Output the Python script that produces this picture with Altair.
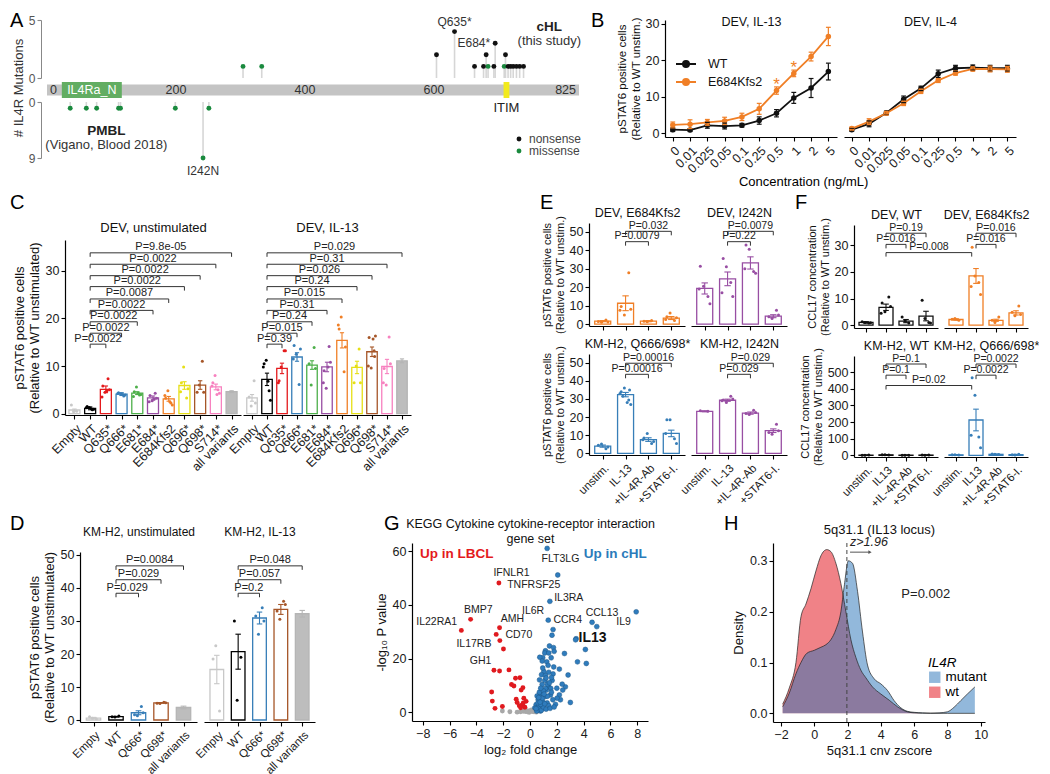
import json
import altair as alt
import pandas as pd

FONT = "Liberation Sans"
BLACK = "#111111"
ORANGE = "#f07f26"
BLUE = "#377eb8"
PURPLE = "#984ea3"
GREEN = "#1a8a3e"
LIGHT = "#c8c8c8"
GREYFILL = "#bdbdbd"
RED = "#e41a1c"
WHITE = "#ffffff"

# ---------------- Panel A data ----------------
A_LEN = 825
A_TICKS = [0, 200, 400, 600, 825]
A_DOM_NAME = ["IL4Ra_N"]
A_DOM_START = [23]
A_DOM_END = [116]
A_ITIM_NAME = ["ITIM"]
A_ITIM_START = [708]
A_ITIM_END = [717]
A_TOP_POS = [304, 333, 604, 632, 663, 677, 681, 684, 693, 695, 709, 711, 715, 719, 723, 728, 733, 739]
A_TOP_N = [1, 1, 2, 4, 1, 1, 2, 1, 1, 3, 1, 2, 1, 1, 1, 1, 1, 1]
A_TOP_TYPE = ["missense", "missense", "nonsense", "nonsense", "nonsense", "nonsense", "nonsense",
              "missense", "nonsense", "nonsense", "missense", "nonsense", "nonsense", "nonsense",
              "nonsense", "nonsense", "nonsense", "nonsense"]
A_BOT_POS = [36, 61, 77, 111, 114, 199, 242, 251]
A_BOT_N = [1, 1, 1, 1, 1, 1, 9, 1]
A_BOT_TYPE = ["missense"] * 8
A_TOPLAB_TEXT = ["Q635*", "E684*"]
A_TOPLAB_POS = [632, 695]
A_TOPLAB_N = [4, 3]
A_CHL_TEXT = ["cHL", "(this study)"]
A_CHL_POS = [779, 779]
A_CHL_N = [4.4, 3.15]
A_PMBL_TEXT = ["PMBL", "(Vigano, Blood 2018)"]
A_PMBL_POS = [92, 92]
A_PMBL_N = [4.7, 6.9]
A_BOTLAB_TEXT = ["I242N"]
A_BOTLAB_POS = [242]
A_BOTLAB_N = [9]
A_YTITLE = ["# IL4R Mutations"]

# ---------------- Panel B data ----------------
B_CONC = ["0", "0.01", "0.025", "0.05", "0.1", "0.25", "0.5", "1", "2", "5"]
B_IL13_WT = [1.0, 0.9, 2.2, 2.0, 2.2, 3.5, 5.5, 9.7, 12.4, 16.9]
B_IL13_WT_SE = [0.5, 0.4, 0.8, 0.8, 0.5, 1.0, 1.0, 1.5, 2.6, 2.3]
B_IL13_MUT = [2.3, 2.5, 3.0, 3.4, 4.5, 6.7, 11.7, 16.4, 21.0, 26.5]
B_IL13_MUT_SE = [0.8, 1.2, 0.8, 1.0, 1.0, 1.5, 1.0, 0.9, 1.2, 2.5]
B_IL4_WT = [1.0, 2.6, 5.6, 9.3, 12.3, 16.3, 17.8, 18.0, 17.8, 17.8]
B_IL4_WT_SE = [0.4, 0.8, 0.5, 0.9, 0.6, 1.0, 0.8, 0.7, 0.8, 0.8]
B_IL4_MUT = [1.3, 3.2, 5.5, 8.2, 11.5, 14.5, 16.5, 17.6, 17.6, 17.5]
B_IL4_MUT_SE = [0.4, 0.8, 0.5, 0.6, 0.6, 0.6, 0.6, 0.6, 0.8, 0.8]
B_STAR_IDX = [6, 7]
B_STAR_Y = [14.6, 19.3]

# ---------------- Panel C data ----------------
C_LABELS = ["Empty", "WT", "Q635*", "Q666*", "E681*", "E684*", "E684Kfs2", "Q696*", "Q698*", "S714*", "all variants"]
C_COLORS = [LIGHT, "#000000", "#e41a1c", "#377eb8", "#4daf4a", "#984ea3", ORANGE, "#e6df16", "#a65628", "#f781bf", "#b5b5b5"]
C_FILLS = [WHITE] * 10 + [GREYFILL]
C_UNSTIM_MEAN = [0.75, 1.1, 5.1, 4.1, 4.3, 3.3, 3.1, 5.9, 6.0, 5.6, 4.6]
C_UNSTIM_SE = [0.2, 0.3, 0.7, 0.3, 0.3, 0.4, 0.5, 0.8, 0.9, 0.6, 0.2]
C_UNSTIM_PTS = [[1.8, 0.5, 0.4], [1.5, 0.8, 1.3, 0.9, 1.2, 1.0], [5.8, 7.3, 4.5, 5.0, 3.5, 4.8],
                [4.4, 3.7, 4.1, 3.9, 4.2, 4.0], [4.6, 3.9, 5.6, 4.0, 3.6, 4.3], [3.8, 4.3, 2.7, 3.2, 2.5, 3.0],
                [3.2, 2.2, 4.8, 1.8, 3.8, 2.5], [6.5, 3.3, 9.8, 5.2, 4.6], [4.5, 11.0, 6.0, 4.5],
                [6.5, 5.0, 8.0, 4.3, 5.8, 4.0], []]
C_UNSTIM_BR_TO = ["Q635*", "Q666*", "E681*", "E684*", "E684Kfs2", "Q696*", "Q698*", "S714*", "all variants"]
C_UNSTIM_BR_Y = [14.6, 16.9, 19.3, 21.7, 24.1, 26.7, 29.0, 31.4, 33.8]
C_UNSTIM_BR_P = ["P=0.0022", "P=0.0022", "P=0.0022", "P=0.0022", "P=0.0087", "P=0.0022", "P=0.0022", "P=0.0022", "P=9.8e-05"]
C_IL13_MEAN = [3.3, 7.2, 9.5, 11.9, 10.2, 9.8, 15.4, 9.7, 13.0, 9.9, 11.1]
C_IL13_SE = [0.7, 1.3, 1.1, 0.9, 0.9, 1.0, 1.6, 1.3, 1.0, 1.5, 0.4]
C_IL13_PTS = [[3.5, 6.9, 1.6, 2.2], [10.5, 4.8, 11.2, 2.8, 9.8, 6.8], [6.9, 13.2, 9.8, 13.2, 6.5],
              [14.3, 6.1, 12.5, 13.6, 11.5], [10.5, 13.9, 6.0, 9.5], [9.0, 14.1, 5.3, 10.8, 6.5, 9.8],
              [17.8, 8.8, 20.3, 14.0, 18.6], [6.5, 13.6, 10.0, 6.5], [16.0, 13.2, 9.6, 16.3, 10.0, 15.7, 12.0],
              [9.5, 16.1, 6.0, 10.5, 6.5], []]
C_IL13_BR_Y = [14.6, 16.9, 19.3, 21.7, 24.1, 26.7, 29.0, 31.4, 33.8]
C_IL13_BR_P = ["P=0.39", "P=0.015", "P=0.24", "P=0.31", "P=0.015", "P=0.24", "P=0.026", "P=0.31", "P=0.029"]

# ---------------- Panel D data ----------------
D_LABELS = ["Empty", "WT", "Q666*", "Q698*", "all variants"]
D_COLORS = [LIGHT, "#000000", "#377eb8", "#a65628", "#b5b5b5"]
D_FILLS = [WHITE] * 4 + [GREYFILL]
D_UNSTIM_MEAN = [0.6, 1.0, 2.2, 5.2, 3.8]
D_UNSTIM_SE = [0.2, 0.1, 0.6, 0.1, 0.4]
D_UNSTIM_PTS = [[1.0, 0.3, 0.5], [1.0, 1.2, 0.9], [1.6, 4.1, 1.3, 2.2], [5.1, 5.4, 5.0, 5.2], []]
D_IL13_MEAN = [15.3, 20.7, 30.9, 33.5, 32.2]
D_IL13_SE = [4.3, 5.3, 1.8, 1.5, 1.0]
D_IL13_PTS = [[18.5, 2.7, 22.5], [30.0, 19.0, 6.0], [31.5, 34.0, 26.0, 30.0], [33.0, 36.0, 30.5, 35.0], []]
D_BR_TO = ["Q666*", "Q698*", "all variants"]
D_BR_Y = [38.4, 42.5, 46.7]
D_UNSTIM_BR_P = ["P=0.029", "P=0.029", "P=0.0084"]
D_IL13_BR_P = ["P=0.2", "P=0.057", "P=0.048"]

# ---------------- Panel E data ----------------
E_LABELS = ["unstim.", "IL-13", "+IL-4R-Ab", "+STAT6-I."]
E_BR_TO = ["+IL-4R-Ab", "+STAT6-I."]
E_DEV_E684_MEAN = [1.6, 11.3, 1.6, 3.3]
E_DEV_E684_SE = [0.3, 4.0, 0.3, 0.8]
E_DEV_E684_PTS = [[1.5, 2.2, 1.0, 1.2], [9.5, 27.8, 5.0, 8.0, 7.5], [1.6, 2.0, 1.3], [4.0, 2.0, 6.0, 3.5, 2.5]]
E_DEV_E684_BR_Y = [44.6, 50.2]
E_DEV_E684_BR_P = ["P=0.0079", "P=0.032"]
E_DEV_I242N_MEAN = [19.3, 24.5, 33.1, 4.3]
E_DEV_I242N_SE = [3.0, 3.7, 3.3, 0.8]
E_DEV_I242N_PTS = [[31.3, 15.0, 20.5, 11.0, 19.0], [35.5, 22.5, 31.0, 15.0, 17.0],
                   [42.8, 28.5, 40.5, 27.5, 30.0], [4.0, 7.5, 3.0, 5.0]]
E_DEV_I242N_BR_Y = [44.6, 50.2]
E_DEV_I242N_BR_P = ["P=0.22", "P=0.0079"]
E_KM_Q_MEAN = [4.0, 32.4, 7.6, 11.0]
E_KM_Q_SE = [0.6, 1.2, 1.0, 1.8]
E_KM_Q_PTS = [[4.5, 2.5, 5.2, 3.5], [34.0, 29.5, 36.0, 27.0, 33.0, 28.0, 35.0, 31.5],
              [8.5, 5.5, 11.0, 6.5, 7.5], [18.5, 8.0, 18.5, 5.5, 11.0]]
E_KM_Q_BR_Y = [43.6, 49.7]
E_KM_Q_BR_P = ["P=0.00016", "P=0.00016"]
E_KM_I242N_MEAN = [23.2, 29.3, 22.2, 12.5]
E_KM_I242N_SE = [0.3, 0.6, 0.6, 1.0]
E_KM_I242N_PTS = [[23.5, 23.2], [29.5, 31.5, 28.0, 30.0, 29.0], [22.0, 23.8, 21.5, 22.5], [11.5, 16.0, 10.5, 12.5]]
E_KM_I242N_BR_Y = [43.6, 49.7]
E_KM_I242N_BR_P = ["P=0.029", "P=0.029"]

# ---------------- Panel F data ----------------
F_LABELS = ["unstim.", "IL13", "+IL-4R-Ab", "+STAT6-I."]
F_BR_TO = ["+IL-4R-Ab", "+STAT6-I."]
F_DEV_WT_MEAN = [1.0, 6.7, 1.5, 3.4]
F_DEV_WT_SE = [0.3, 1.2, 0.6, 1.8]
F_DEV_WT_PTS = [[1.3, 0.8, 1.0, 0.9], [8.3, 10.6, 5.0, 7.0, 4.5], [3.0, 0.8, 1.5], [9.4, 1.0, 2.5, 0.8]]
F_DEV_WT_BR_Y = [30.4, 34.6]
F_DEV_WT_BR_P = ["P=0.016", "P=0.19"]
F_DEV_CROSS = ["IL13", 27.3, "P=0.008"]
F_DEV_E684_MEAN = [2.1, 18.5, 1.8, 4.6]
F_DEV_E684_SE = [0.3, 2.8, 0.4, 0.8]
F_DEV_E684_PTS = [[2.2, 1.8, 2.5], [29.3, 16.0, 18.5, 11.5, 14.5], [1.8, 3.0, 1.0], [4.8, 7.2, 3.5, 4.0]]
F_DEV_E684_BR_Y = [30.4, 34.6]
F_DEV_E684_BR_P = ["P=0.016", "P=0.016"]
F_KM_WT_MEAN = [1.0, 3.0, 1.0, 1.5]
F_KM_WT_SE = [0.5, 1.0, 0.5, 0.5]
F_KM_WT_PTS = [[1.0, 1.5, 0.6], [3.5, 2.0, 3.8], [1.0, 1.2, 0.8], [1.5, 2.0, 1.0]]
F_KM_WT_BR_Y = [481, 548]
F_KM_WT_BR_P = ["P=0.1", "P=0.1"]
F_KM_CROSS = ["IL13", 419, "P=0.02"]
F_KM_Q_MEAN = [3.0, 212.0, 6.0, 4.0]
F_KM_Q_SE = [1.0, 65.0, 2.0, 2.0]
F_KM_Q_PTS = [[3.0, 2.0, 4.0], [465.0, 110.0, 360.0, 45.0, 120.0], [8.0, 5.0, 6.0], [4.0, 6.0, 2.0]]
F_KM_Q_BR_Y = [481, 548]
F_KM_Q_BR_P = ["P=0.0022", "P=0.0022"]

# ---------------- Panel G data ----------------
G_BLUE_X = [1.28, 2.07, 1.48, 1.36, 1.72, 1.64, 4.63, 4.98, 7.92, 3.44, 3.40, 4.13, 3.54, 4.20, 2.57,
            1.45, 1.75, 1.80, 1.15, 1.10, 1.40, 1.58, 0.95, 0.73, 0.91, 1.25, 1.77, 2.19, 1.40, 1.03,
            0.86, 1.15, 1.72, 2.84, 2.64, 2.44, 2.19, 2.27, 3.01, 2.02, 1.40, 1.55, 1.23, 0.91, 0.71,
            1.10, 1.65, 0.73, 1.15, 0.61, 0.95, 1.28, 0.46, 0.66, 1.03, 1.40, 0.78, 0.36, 0.53, 0.91,
            1.15, 1.53, 1.70, 0.55, 0.70, 0.85, 1.00, 1.20, 0.60, 0.80, 1.10, 0.90, 1.30, 0.70, 1.00,
            1.30, 0.80, 1.60, 1.90, 1.50, 0.65, 1.20, 0.95, 1.35, 1.60, 2.40, 2.00, 0.50, 1.80, 0.45,
            0.75, 1.05, 1.45]
G_BLUE_Y = [61.0, 51.1, 41.3, 34.3, 30.8, 28.7, 33.5, 31.9, 37.4, 27.4, 27.0, 23.4, 18.8, 18.2, 21.9,
            24.7, 24.1, 22.7, 22.9, 22.1, 22.1, 20.3, 20.3, 20.5, 19.1, 18.8, 16.9, 16.1, 14.9, 15.2,
            14.0, 13.7, 14.3, 13.9, 9.5, 8.3, 6.5, 4.7, 3.7, 5.3, 9.5, 8.9, 8.3, 10.4, 12.1,
            11.9, 11.9, 6.5, 5.9, 4.7, 4.1, 3.5, 2.9, 2.3, 1.7, 2.5, 0.5, 1.7, 6.1, 7.1,
            8.9, 6.5, 4.7, 1.0, 1.2, 0.8, 2.0, 1.2, 3.5, 3.0, 3.2, 5.2, 6.0, 7.5, 8.0,
            10.5, 9.0, 7.5, 3.0, 1.5, 5.5, 12.8, 16.5, 17.5, 13.0, 10.5, 9.0, 0.5, 2.0, 1.4,
            3.8, 6.8, 11.0]
G_RED_X = [-2.32, -4.43, -5.12, -2.27, -2.52, -2.25, -1.98, -2.69, -2.27, -1.57, -1.08, -0.75, -1.38, -1.20,
           -0.53, -0.66, -2.86, -2.81, -2.61, -2.06, -1.03, -0.96, -0.46, -0.58, -0.38, -0.70, -0.29, -0.50, -0.80]
G_RED_Y = [48.1, 34.6, 30.5, 31.5, 29.0, 26.7, 23.6, 15.7, 15.4, 15.8, 12.7, 12.9, 10.4, 9.8,
           9.2, 8.3, 7.6, 4.2, 1.5, 2.2, 4.9, 3.7, 5.3, 2.8, 1.9, 1.7, 4.1, 3.5, 2.5]
G_GRAY_X = [-2.06, -1.50, -0.96, -0.70, -0.34, -0.04, 0.17, 0.37, 0.47, 0.60, -0.20, 0.10, -0.50, 0.30, 0.00, -0.15]
G_GRAY_Y = [0.5, 0.25, 0.1, 0.2, 0.3, 0.05, 0.3, 0.8, 0.1, 0.6, 0.6, 0.9, 0.4, 0.2, 0.5, 0.15]
G_LAB = ["FLT3LG", "IFNLR1", "TNFRSF25", "IL3RA", "IL6R", "CCR4", "CCL13", "IL9", "BMP7", "IL22RA1",
         "AMH", "CD70", "IL17RB", "GH1"]
G_LAB_X = [2.27, -1.38, 0.28, 2.89, 0.23, 2.81, 5.37, 6.98, -3.85, -6.96, -1.32, -0.83, -4.18, -3.68]
G_LAB_Y = [57.1, 51.7, 47.2, 42.7, 37.7, 34.3, 36.8, 33.7, 38.2, 33.7, 34.6, 28.7, 25.3, 19.3]
G_KEY_LAB = ["IL13"]
G_KEY_X = [4.67]
G_KEY_Y = [27.8]
G_SIDE_LAB = ["Up in LBCL", "Up in cHL"]
G_SIDE_X = [-5.47, 6.36]
G_SIDE_Y = [58.9, 58.9]
G_SIDE_COL = [RED, "#2b7bba"]

# ---------------- Panel H data ----------------
H_MUT_X = [-1.9, -1.5, -1.1, -0.8, -0.45, 0.0, 0.4, 0.7, 1.0, 1.3, 1.6, 1.8, 2.05, 2.3, 2.6, 2.9, 3.2,
           3.6, 4.0, 4.4, 4.8, 5.2, 5.6, 6.0, 6.5, 7.0, 7.5, 8.0, 8.4, 8.8, 9.2, 9.65]
H_MUT_Y = [0.013, 0.04, 0.078, 0.10, 0.118, 0.124, 0.13, 0.135, 0.145, 0.165, 0.20, 0.25, 0.30, 0.295,
           0.24, 0.16, 0.095, 0.068, 0.058, 0.045, 0.025, 0.011, 0.004, 0.002, 0.001, 0.0005, 0.001,
           0.003, 0.012, 0.025, 0.038, 0.052]
H_WT_X = [-1.9, -1.5, -1.1, -0.8, -0.5, -0.2, 0.1, 0.4, 0.75, 1.0, 1.3, 1.6, 1.9, 2.2, 2.5, 2.8, 3.1,
          3.5, 4.0, 4.5, 5.0, 5.5, 6.0, 7.0, 8.0, 9.0, 9.65]
H_WT_Y = [0.018, 0.05, 0.10, 0.19, 0.215, 0.245, 0.28, 0.31, 0.322, 0.318, 0.295, 0.255, 0.20, 0.145,
          0.11, 0.085, 0.07, 0.052, 0.038, 0.026, 0.013, 0.004, 0.001, 0.0, 0.0, 0.0, 0.0]
H_THRESH = [1.96]
H_ARROW_X = [2.15]
H_ARROW_X2 = [3.35]
H_ARROW_Y = [0.317]
H_NOTE = ["P=0.002"]
H_NOTE_X = [6.7]
H_NOTE_Y = [0.235]
H_BLUE = "#2571b7"
H_RED = "#e1050f"

JIT = [-0.55, 0.4, -0.15, 0.65, -0.7, 0.2, 0.5, -0.35, 0.05]
LINE_DOT_SYMBOL = "M-1,0L1,0M0.3,0A0.3,0.3,0,1,1,-0.3,0A0.3,0.3,0,1,1,0.3,0Z"


# ---------------- helpers ----------------
def res(ch):
    return ch.resolve_scale(color="independent").resolve_legend(color="independent")


def hrow(items):
    return res(alt.hconcat(*items, spacing=0))


def vcol(items, spacing=0):
    return res(alt.vconcat(*items, spacing=spacing))


def spacer(w=1, h=1):
    return alt.Chart(pd.DataFrame({"s": [0]})).mark_point(opacity=0, size=1).encode(
        x=alt.value(0), y=alt.value(0)).properties(width=w, height=h)


def leaf(kind, items, spacing, title=None, columns=None):
    kw = {"spacing": spacing, "bounds": "flush"}
    if title is not None:
        kw["title"] = title
    if kind == "h":
        ch = alt.hconcat(*items, **kw)
    elif kind == "v":
        ch = alt.vconcat(*items, **kw)
    else:
        ch = alt.concat(*items, columns=columns, **kw)
    return res(ch)


def top_axis(title, pad, size):
    return alt.Axis(orient="top", title=title, labels=False, ticks=False, domain=False,
                    titlePadding=pad, titleFontSize=size, titleFontWeight="normal",
                    titleColor="#111", minExtent=0, maxExtent=0, grid=False)


def letter_layer(ch, dx, dy):
    return alt.Chart(pd.DataFrame({"t": [ch]})).mark_text(
        align="left", baseline="top", fontSize=20, color="#000").encode(
        x=alt.value(dx), y=alt.value(dy), text="t:N")


def bar_panel(labels, cols, fills, means, ses, pts, title, w, h, ydom, yvals,
              show_y=True, ytitle=None, show_xlab=True, br=None, cross=None,
              half=0.35, title_pad=6, title_size=13, yt_size=13, xl_size=12.5,
              ptsize=9, brfont=10.5, gap=6, letter=None):
    n = len(labels)
    idx = list(range(n))
    span = float(n)
    xs = alt.Scale(domain=[-0.6, n - 0.4], nice=False, zero=False, padding=0)
    ys = alt.Scale(domain=ydom, nice=False, zero=False, padding=0)
    if show_xlab:
        xax = alt.Axis(values=idx, labelExpr=json.dumps(labels) + "[datum.value]",
                       labelAngle=-45, labelAlign="right", labelBaseline="top",
                       labelOverlap=False, labelFlush=False, title=None, labelPadding=3,
                       labelFontSize=xl_size)
    else:
        xax = alt.Axis(values=idx, labels=False, title=None)
    yax = alt.Axis(values=yvals, title=ytitle, labelFlush=False, labelOverlap=False,
                   titleFontSize=yt_size) if show_y else None

    def X(f, ax=False):
        return alt.X(f + ":Q", scale=xs, axis=xax if ax else None)

    def Y(f):
        return alt.Y(f + ":Q", scale=ys, axis=yax)

    bdf = pd.DataFrame({"i": idx, "col": cols, "fill": fills, "m": means, "se": ses})
    bdf["x0"] = bdf["i"] - half
    bdf["x1"] = bdf["i"] + half
    bdf["z"] = 0.0
    bdf["lo"] = bdf["m"] - bdf["se"]
    bdf["hi"] = bdf["m"] + bdf["se"]
    bdf["c0"] = bdf["i"] - half * 0.4
    bdf["c1"] = bdf["i"] + half * 0.4
    col = alt.Color("col:N", scale=None)
    layers = [
        alt.Chart(bdf).mark_bar(strokeWidth=1.3).encode(
            x=X("x0", True), x2="x1", y=Y("m"), y2="z",
            stroke=alt.Stroke("col:N", scale=None), fill=alt.Fill("fill:N", scale=None)),
        alt.Chart(bdf).mark_point(opacity=0).encode(
            x=alt.X("i:Q", scale=xs, axis=top_axis(title, title_pad, title_size)), y=Y("m")),
        alt.Chart(bdf).mark_rule(strokeWidth=1.1).encode(x=X("i"), y=Y("lo"), y2="hi", color=col),
        alt.Chart(bdf).mark_rule(strokeWidth=1.1).encode(x=X("c0"), x2="c1", y=Y("hi"), color=col),
        alt.Chart(bdf).mark_rule(strokeWidth=1.1).encode(x=X("c0"), x2="c1", y=Y("lo"), color=col),
    ]
    prow = []
    for i, ps in enumerate(pts):
        for k, v in enumerate(ps):
            prow.append({"px": i + JIT[k % len(JIT)] * half, "v": v, "col": cols[i]})
    if prow:
        layers.append(alt.Chart(pd.DataFrame(prow)).mark_circle(size=ptsize, opacity=1).encode(
            x=X("px"), y=Y("v"), color=col))
    tick = 4.0 * (ydom[1] - ydom[0]) / h
    if br is not None:
        frm, to_l, lv_l, lab_l = br
        a = labels.index(frm)
        rdf = pd.DataFrame({"a": [a] * len(to_l), "b": [labels.index(t) for t in to_l],
                            "lv": lv_l, "lab": lab_l})
        rdf["mid"] = (rdf["a"] + rdf["b"]) / 2.0
        rdf["tk"] = rdf["lv"] - tick
        tdf = pd.concat([rdf[["a", "lv", "tk"]].rename(columns={"a": "t"}),
                         rdf[["b", "lv", "tk"]].rename(columns={"b": "t"})])
        layers += [
            alt.Chart(rdf).mark_rule(color="#333", strokeWidth=1).encode(x=X("a"), x2="b", y=Y("lv")),
            alt.Chart(tdf).mark_rule(color="#333", strokeWidth=1).encode(x=X("t"), y=Y("lv"), y2="tk"),
            alt.Chart(rdf).mark_text(baseline="bottom", dy=-0.5, fontSize=brfont, color="#222").encode(
                x=X("mid"), y=Y("lv"), text="lab:N"),
        ]
    if cross is not None:
        frm, lv, lab = cross
        a = labels.index(frm)
        pxa = (a + 0.6) / span * w
        ir = (w + gap + pxa) / w * span - 0.6
        xdf = pd.DataFrame({"a": [a], "b": [ir], "lv": [lv], "lab": [lab], "mid": [(a + ir) / 2.0]})
        xt = pd.DataFrame({"t": [a, ir], "lv": [lv, lv], "tk": [lv - tick, lv - tick]})
        layers += [
            alt.Chart(xdf).mark_rule(color="#333", strokeWidth=1).encode(x=X("a"), x2="b", y=Y("lv")),
            alt.Chart(xt).mark_rule(color="#333", strokeWidth=1).encode(x=X("t"), y=Y("lv"), y2="tk"),
            alt.Chart(xdf).mark_text(baseline="bottom", dy=-0.5, fontSize=brfont, color="#222").encode(
                x=X("mid"), y=Y("lv"), text="lab:N"),
        ]
    if letter is not None:
        layers.append(letter_layer(*letter))
    return alt.layer(*layers).resolve_axis(x="independent").properties(width=w, height=h)


def conc_panel(title, wt, wt_se, mu, mu_se, w, h, show_y, with_legend, stars=False, letter=None):
    n = len(B_CONC)
    idx = list(range(n))
    rows = []
    for g, m, s in (("WT", wt, wt_se), ("E684Kfs2", mu, mu_se)):
        for i in idx:
            rows.append(dict(i=i, bgrp=g, m=m[i], lo=m[i] - s[i], hi=m[i] + s[i], c0=i - 0.14, c1=i + 0.14))
    df = pd.DataFrame(rows)
    xs = alt.Scale(domain=[-0.45, n - 0.5], nice=False, zero=False, padding=0)
    ys = alt.Scale(domain=[-1, 31], nice=False, zero=False, padding=0)
    xax = alt.Axis(values=idx, labelExpr=json.dumps(B_CONC) + "[datum.value]", labelAngle=-45,
                   labelAlign="right", labelBaseline="top", labelOverlap=False, labelFlush=False,
                   title=None, labelPadding=3)
    yax = alt.Axis(values=[0, 10, 20, 30], title=["pSTAT6 positive cells", "(Relative to WT unstim.)"],
                   labelFlush=False, titleFontSize=11.5) if show_y else None
    leg = alt.Legend(title=None, orient="none", legendX=10, legendY=33, labelFontSize=12.5,
                     symbolType=LINE_DOT_SYMBOL, symbolStrokeWidth=2, symbolSize=400, rowPadding=0,
                     labelOffset=11, padding=0, labelColor="#111") if with_legend else None
    col = alt.Color("bgrp:N", scale=alt.Scale(domain=["WT", "E684Kfs2"], range=[BLACK, ORANGE]), legend=leg)

    def X(f, ax=False):
        return alt.X(f + ":Q", scale=xs, axis=xax if ax else None)

    def Y(f):
        return alt.Y(f + ":Q", scale=ys, axis=yax)

    layers = [
        alt.Chart(df).mark_line(strokeWidth=1.8, point=alt.OverlayMarkDef(filled=True, size=30)).encode(
            x=X("i", True), y=Y("m"), color=col),
        alt.Chart(df).mark_point(opacity=0).encode(
            x=alt.X("i:Q", scale=xs, axis=top_axis(title, -8, 12.5)), y=Y("m")),
        alt.Chart(df).mark_rule(strokeWidth=1.2).encode(x=X("i"), y=Y("lo"), y2="hi", color=col),
        alt.Chart(df).mark_rule(strokeWidth=1.2).encode(x=X("c0"), x2="c1", y=Y("hi"), color=col),
        alt.Chart(df).mark_rule(strokeWidth=1.2).encode(x=X("c0"), x2="c1", y=Y("lo"), color=col),
    ]
    if stars:
        sdf = pd.DataFrame({"i": B_STAR_IDX, "y": B_STAR_Y, "t": ["*"] * len(B_STAR_IDX)})
        layers.append(alt.Chart(sdf).mark_text(fontSize=17, color=ORANGE, baseline="middle", dy=5).encode(
            x=X("i"), y=Y("y"), text="t:N"))
    if letter is not None:
        layers.append(letter_layer(*letter))
    return alt.layer(*layers).resolve_axis(x="independent").properties(width=w, height=h)


# ---------------- Panel A ----------------
A_W = 532
a_xs = alt.Scale(domain=[0, A_LEN], nice=False, zero=False, padding=0)
atype_scale = alt.Scale(domain=["nonsense", "missense"], range=[BLACK, GREEN])
AX = alt.X("pos:Q", scale=a_xs, axis=None)
a_axis_style = dict(title=None, offset=6, domainColor="#888", tickColor="#888", labelColor="#555",
                    labelFlush=False, domainWidth=1, tickSize=4, labelFontSize=12)

top_df = pd.DataFrame({"pos": A_TOP_POS, "n": A_TOP_N, "atype": A_TOP_TYPE, "z": 0})
ty = alt.Scale(domain=[0, 5], nice=False, zero=False, padding=0)
TY = alt.Y("n:Q", scale=ty, axis=alt.Axis(values=[0, 5], **a_axis_style))
toplab = pd.DataFrame({"pos": A_TOPLAB_POS, "n": A_TOPLAB_N, "t": A_TOPLAB_TEXT})
chl = pd.DataFrame({"pos": A_CHL_POS, "n": A_CHL_N, "t": A_CHL_TEXT})
A_top = alt.layer(
    alt.Chart(top_df).mark_rule(color="#d6d6d6", strokeWidth=1.6).encode(x=AX, y=TY, y2="z"),
    alt.Chart(top_df).mark_circle(size=24, opacity=1).encode(
        x=AX, y=TY, color=alt.Color("atype:N", scale=atype_scale, legend=None)),
    alt.Chart(toplab.iloc[:1]).mark_text(dy=-10, fontSize=12, color="#333").encode(x=AX, y=TY, text="t:N"),
    alt.Chart(toplab.iloc[1:]).mark_text(dx=-5, align="right", fontSize=12, color="#333").encode(
        x=AX, y=TY, text="t:N"),
    alt.Chart(chl.iloc[:1]).mark_text(fontSize=13.5, fontWeight="bold", color="#222").encode(
        x=AX, y=TY, text="t:N"),
    alt.Chart(chl.iloc[1:]).mark_text(fontSize=13, color="#333").encode(x=AX, y=TY, text="t:N"),
    letter_layer("A", -37, -9),
).properties(width=A_W, height=58)

trk_y = alt.Y("trk:N", axis=None)
bar_df = pd.DataFrame({"pos": [0], "e": [A_LEN], "trk": ["t"]})
dom_df = pd.DataFrame({"pos": A_DOM_START, "e": A_DOM_END, "trk": ["t"], "name": A_DOM_NAME})
dom_df["mid"] = (dom_df["pos"] + dom_df["e"]) / 2.0
itim_df = pd.DataFrame({"pos": A_ITIM_START, "e": A_ITIM_END, "trk": ["t"], "name": A_ITIM_NAME})
itim_df["mid"] = (itim_df["pos"] + itim_df["e"]) / 2.0
tk_df = pd.DataFrame({"pos": A_TICKS, "t": [str(v) for v in A_TICKS], "trk": ["t"] * len(A_TICKS)})
MX = alt.X("mid:Q", scale=a_xs, axis=None)
A_mid = alt.layer(
    alt.Chart(bar_df).mark_bar(size=11, color="#c4c4c4").encode(x=AX, x2="e", y=trk_y),
    alt.Chart(dom_df).mark_bar(size=16, color="#62ad62").encode(x=AX, x2="e", y=trk_y),
    alt.Chart(itim_df).mark_bar(size=16, color="#f2ea1c").encode(x=AX, x2="e", y=trk_y),
    alt.Chart(dom_df).mark_text(fontSize=12.5, color="#ffffff").encode(x=MX, y=trk_y, text="name:N"),
    alt.Chart(itim_df).mark_text(fontSize=13, color="#222", dy=18).encode(x=MX, y=trk_y, text="name:N"),
    alt.Chart(tk_df.iloc[:1]).mark_text(fontSize=12.5, color="#333", align="left", dx=3).encode(
        x=AX, y=trk_y, text="t:N"),
    alt.Chart(tk_df.iloc[1:4]).mark_text(fontSize=12.5, color="#333").encode(x=AX, y=trk_y, text="t:N"),
    alt.Chart(tk_df.iloc[4:]).mark_text(fontSize=12.5, color="#333", align="right", dx=-3).encode(
        x=AX, y=trk_y, text="t:N"),
    alt.Chart(pd.DataFrame({"t": A_YTITLE})).mark_text(angle=270, fontSize=13, color="#333").encode(
        x=alt.value(-28), y=alt.value(10), text="t:N"),
).properties(width=A_W, height=24)

bot_df = pd.DataFrame({"pos": A_BOT_POS, "n": A_BOT_N, "atype": A_BOT_TYPE, "z": 0})
by = alt.Scale(domain=[0, 9], reverse=True, nice=False, zero=False, padding=0)
BY = alt.Y("n:Q", scale=by, axis=alt.Axis(values=[0, 9], **a_axis_style))
pmbl = pd.DataFrame({"pos": A_PMBL_POS, "n": A_PMBL_N, "t": A_PMBL_TEXT})
botlab = pd.DataFrame({"pos": A_BOTLAB_POS, "n": A_BOTLAB_N, "t": A_BOTLAB_TEXT})
A_bot = alt.layer(
    alt.Chart(bot_df).mark_rule(color="#d6d6d6", strokeWidth=1.6).encode(x=AX, y=BY, y2="z"),
    alt.Chart(bot_df).mark_circle(size=24, opacity=1).encode(
        x=AX, y=BY, color=alt.Color("atype:N", scale=atype_scale,
                                    legend=alt.Legend(title=None, orient="none", legendX=466, legendY=31,
                                                      symbolType="circle", symbolSize=24, labelFontSize=12,
                                                      labelColor="#444", rowPadding=0))),
    alt.Chart(pmbl.iloc[:1]).mark_text(fontSize=13.5, fontWeight="bold", color="#222").encode(
        x=AX, y=BY, text="t:N"),
    alt.Chart(pmbl.iloc[1:]).mark_text(fontSize=13, color="#333").encode(x=AX, y=BY, text="t:N"),
    alt.Chart(botlab).mark_text(fontSize=12, color="#333", dy=13).encode(x=AX, y=BY, text="t:N"),
).properties(width=A_W, height=56)

A = leaf("v", [A_top, A_mid, A_bot], 0)

# ---------------- Panel B ----------------
B1 = conc_panel("DEV, IL-13", B_IL13_WT, B_IL13_WT_SE, B_IL13_MUT, B_IL13_MUT_SE, 172, 117, True, True,
                stars=True, letter=("B", -74, -9))
B2 = conc_panel("DEV, IL-4", B_IL4_WT, B_IL4_WT_SE, B_IL4_MUT, B_IL4_MUT_SE, 172, 117, False, False)
B = leaf("h", [B1, B2], 7,
         title=alt.TitleParams("Concentration (ng/mL)", orient="bottom", anchor="middle",
                               fontSize=13, fontWeight="normal", offset=1))
row1 = hrow([spacer(), A, spacer(8), B])

# ---------------- Panel C ----------------
C_YT = ["pSTAT6 positive cells", "(Relative to WT unstimulated)"]
C1 = bar_panel(C_LABELS, C_COLORS, C_FILLS, C_UNSTIM_MEAN, C_UNSTIM_SE, C_UNSTIM_PTS, "DEV, unstimulated",
               176, 175, [-0.3, 36.5], [0, 10, 20, 30], True, C_YT, True,
               br=("WT", C_UNSTIM_BR_TO, C_UNSTIM_BR_Y, C_UNSTIM_BR_P), title_pad=6, brfont=11,
               letter=("C", -55, -47))
C2 = bar_panel(C_LABELS, C_COLORS, C_FILLS, C_IL13_MEAN, C_IL13_SE, C_IL13_PTS, "DEV, IL-13",
               168, 175, [-0.3, 36.5], [0, 10, 20, 30], False, None, True,
               br=("WT", C_UNSTIM_BR_TO, C_IL13_BR_Y, C_IL13_BR_P), title_pad=6, brfont=11)
C = leaf("h", [C1, C2], 2)

# ---------------- Panel E ----------------
E_YT = ["pSTAT6 positive cells", "(Relative to WT unstim.)"]
ekw = dict(title_pad=4, title_size=12.5, yt_size=11, xl_size=11.5, gap=6)
E1 = bar_panel(E_LABELS, [ORANGE] * 4, [WHITE] * 4, E_DEV_E684_MEAN, E_DEV_E684_SE, E_DEV_E684_PTS,
               "DEV, E684Kfs2", 96, 103, [-1, 54.7], [0, 10, 20, 30, 40, 50], True, E_YT, False,
               br=("IL-13", E_BR_TO, E_DEV_E684_BR_Y, E_DEV_E684_BR_P), letter=("E", -49, -30), **ekw)
E2 = bar_panel(E_LABELS, [PURPLE] * 4, [WHITE] * 4, E_DEV_I242N_MEAN, E_DEV_I242N_SE, E_DEV_I242N_PTS,
               "DEV, I242N", 96, 103, [-1, 54.7], [0, 10, 20, 30, 40, 50], False, None, False,
               br=("IL-13", E_BR_TO, E_DEV_I242N_BR_Y, E_DEV_I242N_BR_P), **ekw)
E3 = bar_panel(E_LABELS, [BLUE] * 4, [WHITE] * 4, E_KM_Q_MEAN, E_KM_Q_SE, E_KM_Q_PTS,
               "KM-H2, Q666/698*", 96, 101, [-0.9, 54.8], [0, 10, 20, 30, 40, 50], True, E_YT, True,
               br=("IL-13", E_BR_TO, E_KM_Q_BR_Y, E_KM_Q_BR_P), **ekw)
E4 = bar_panel(E_LABELS, [PURPLE] * 4, [WHITE] * 4, E_KM_I242N_MEAN, E_KM_I242N_SE, E_KM_I242N_PTS,
               "KM-H2, I242N", 96, 101, [-0.9, 54.8], [0, 10, 20, 30, 40, 50], False, None, True,
               br=("IL-13", E_BR_TO, E_KM_I242N_BR_Y, E_KM_I242N_BR_P), **ekw)
E = leaf("g", [E1, E2, E3, E4], {"row": 28, "column": 6}, columns=2)

# ---------------- Panel F ----------------
F_YT = ["CCL17 concentration", "(Relative to WT unstim.)"]
F1 = bar_panel(F_LABELS, [BLACK] * 4, [WHITE] * 4, F_DEV_WT_MEAN, F_DEV_WT_SE, F_DEV_WT_PTS,
               "DEV, WT", 84, 103, [-1.1, 37.7], [0, 10, 20, 30], True, F_YT, False,
               br=("IL13", F_BR_TO, F_DEV_WT_BR_Y, F_DEV_WT_BR_P), cross=F_DEV_CROSS,
               letter=("F", -59, -32), **ekw)
F2 = bar_panel(F_LABELS, [ORANGE] * 4, [WHITE] * 4, F_DEV_E684_MEAN, F_DEV_E684_SE, F_DEV_E684_PTS,
               "DEV, E684Kfs2", 84, 103, [-1.1, 37.7], [0, 10, 20, 30], False, None, False,
               br=("IL13", F_BR_TO, F_DEV_E684_BR_Y, F_DEV_E684_BR_P), **ekw)
F3 = bar_panel(F_LABELS, [BLACK] * 4, [WHITE] * 4, F_KM_WT_MEAN, F_KM_WT_SE, F_KM_WT_PTS,
               "KM-H2, WT", 84, 101, [-10, 596], [0, 100, 200, 300, 400, 500], True, F_YT, True,
               br=("IL13", F_BR_TO, F_KM_WT_BR_Y, F_KM_WT_BR_P), cross=F_KM_CROSS, **ekw)
F4 = bar_panel(F_LABELS, [BLUE] * 4, [WHITE] * 4, F_KM_Q_MEAN, F_KM_Q_SE, F_KM_Q_PTS,
               "KM-H2, Q666/698*", 84, 101, [-10, 596], [0, 100, 200, 300, 400, 500], False, None, True,
               br=("IL13", F_BR_TO, F_KM_Q_BR_Y, F_KM_Q_BR_P), **ekw)
F = leaf("g", [F1, F2, F3, F4], {"row": 28, "column": 6}, columns=2)

row2 = hrow([spacer(), vcol([spacer(), C]), spacer(128), vcol([spacer(), E]), spacer(7), vcol([spacer(), F])])

# ---------------- Panel D ----------------
D1 = bar_panel(D_LABELS, D_COLORS, D_FILLS, D_UNSTIM_MEAN, D_UNSTIM_SE, D_UNSTIM_PTS, "KM-H2, unstimulated",
               117, 170, [-0.6, 50.9], [0, 10, 20, 30, 40, 50], True, C_YT, True,
               br=("WT", D_BR_TO, D_BR_Y, D_UNSTIM_BR_P), half=0.32, title_pad=14, title_size=12,
               xl_size=11.5, brfont=11, letter=("D", -70, -38))
D2 = bar_panel(D_LABELS, D_COLORS, D_FILLS, D_IL13_MEAN, D_IL13_SE, D_IL13_PTS, "KM-H2, IL-13",
               111, 170, [-0.6, 50.9], [0, 10, 20, 30, 40, 50], False, None, True,
               br=("WT", D_BR_TO, D_BR_Y, D_IL13_BR_P), half=0.32, title_pad=14, title_size=12,
               xl_size=11.5, brfont=11)
D = leaf("h", [D1, D2], 7)

# ---------------- Panel G ----------------
gxs = alt.Scale(domain=[-8.8, 8.8], nice=False, zero=False, padding=0)
gys = alt.Scale(domain=[-3.2, 63], nice=False, zero=False, padding=0)
GXA = alt.X("x:Q", scale=gxs, axis=alt.Axis(values=list(range(-8, 9, 2)), title="log\u2082 fold change",
                                           labelFlush=False))
GX = alt.X("x:Q", scale=gxs, axis=None)
GY = alt.Y("y:Q", scale=gys, axis=alt.Axis(values=[0, 20, 40, 60], title="-log\u2081\u2080 P value",
                                          labelFlush=False))
g_gray = pd.DataFrame({"x": G_GRAY_X, "y": G_GRAY_Y})
g_red = pd.DataFrame({"x": G_RED_X, "y": G_RED_Y})
g_blue = pd.DataFrame({"x": G_BLUE_X, "y": G_BLUE_Y})
g_lab = pd.DataFrame({"x": G_LAB_X, "y": G_LAB_Y, "t": G_LAB})
g_key = pd.DataFrame({"x": G_KEY_X, "y": G_KEY_Y, "t": G_KEY_LAB})
g_side = pd.DataFrame({"x": G_SIDE_X, "y": G_SIDE_Y, "t": G_SIDE_LAB, "col": G_SIDE_COL})
G = alt.layer(
    alt.Chart(g_gray).mark_circle(size=24, opacity=1, color="#a8a8a8").encode(x=GXA, y=GY),
    alt.Chart(g_gray).mark_point(opacity=0).encode(
        x=alt.X("x:Q", scale=gxs, axis=top_axis(["KEGG Cytokine cytokine-receptor interaction", "gene set"],
                                                -2, 12.5)), y=GY),
    alt.Chart(g_red).mark_circle(size=24, opacity=1, color="#e01a1f").encode(x=GX, y=GY),
    alt.Chart(g_blue).mark_circle(size=24, opacity=1, color="#2f7cbd", stroke="#1d5687",
                                  strokeWidth=0.5).encode(x=GX, y=GY),
    alt.Chart(g_lab).mark_text(fontSize=10.5, color="#222").encode(x=GX, y=GY, text="t:N"),
    alt.Chart(g_key).mark_text(fontSize=14, fontWeight="bold", color="#111").encode(x=GX, y=GY, text="t:N"),
    alt.Chart(g_side).mark_text(fontSize=13.5, fontWeight="bold").encode(
        x=GX, y=GY, text="t:N", color=alt.Color("col:N", scale=None)),
    letter_layer("G", -28, -29),
).resolve_axis(x="independent").properties(width=236, height=178)

# ---------------- Panel H ----------------
hxs = alt.Scale(domain=[-2.48, 10.26], nice=False, zero=False, padding=0)
hys = alt.Scale(domain=[-0.017, 0.335], nice=False, zero=False, padding=0)
HXA = alt.X("x:Q", scale=hxs, axis=alt.Axis(values=list(range(-2, 11, 2)), title="5q31.1 cnv zscore",
                                           labelFlush=False))
HX = alt.X("x:Q", scale=hxs, axis=None)
HY = alt.Y("y:Q", scale=hys, stack=None, axis=alt.Axis(values=[0, 0.1, 0.2, 0.3], format=".1f",
                                                      title="Density", labelFlush=False))
h_mut = pd.DataFrame({"x": H_MUT_X, "y": H_MUT_Y, "hgrp": "mutant"})
h_wt = pd.DataFrame({"x": H_WT_X, "y": H_WT_Y, "hgrp": "wt"})
hcol = alt.Color("hgrp:N", scale=alt.Scale(domain=["mutant", "wt"], range=[H_BLUE, H_RED]),
                 legend=alt.Legend(title="IL4R", titleFontStyle="italic", titleFontWeight="normal",
                                   titleFontSize=13.5, labelFontSize=13.5, orient="none", legendX=155,
                                   legendY=113, symbolType="square", symbolSize=130, symbolOpacity=0.5,
                                   rowPadding=0, titlePadding=1, symbolStrokeWidth=0))
h_thr = pd.DataFrame({"x": H_THRESH})
h_arr = pd.DataFrame({"x": H_ARROW_X, "x2": H_ARROW_X2, "y": H_ARROW_Y})
h_arr_head = pd.DataFrame({"x": H_ARROW_X2, "y": H_ARROW_Y})
h_ztxt = pd.DataFrame({"x": H_ARROW_X, "y": H_ARROW_Y, "t": ["z>1.96"]})
h_note = pd.DataFrame({"x": H_NOTE_X, "y": H_NOTE_Y, "t": H_NOTE})
H = alt.layer(
    alt.Chart(h_wt).mark_area(opacity=0.5, interpolate="monotone").encode(x=HXA, y=HY, color=hcol),
    alt.Chart(h_wt).mark_point(opacity=0).encode(
        x=alt.X("x:Q", scale=hxs, axis=top_axis("5q31.1 (IL13 locus)", 7, 13)), y=HY),
    alt.Chart(h_mut).mark_area(opacity=0.5, interpolate="monotone").encode(x=HX, y=HY, color=hcol),
    alt.Chart(h_wt).mark_line(color="#222", strokeWidth=0.7, interpolate="monotone").encode(x=HX, y=HY),
    alt.Chart(h_mut).mark_line(color="#222", strokeWidth=0.7, interpolate="monotone").encode(x=HX, y=HY),
    alt.Chart(h_thr).mark_rule(color="#444", strokeWidth=1, strokeDash=[4, 3]).encode(x=HX),
    alt.Chart(h_arr).mark_rule(color="#555", strokeWidth=1).encode(x=HX, x2="x2", y=HY),
    alt.Chart(h_arr_head).mark_point(shape="triangle-right", filled=True, size=14, color="#555",
                                     opacity=1).encode(x=HX, y=HY),
    alt.Chart(h_ztxt).mark_text(fontSize=12.5, fontStyle="italic", color="#222", align="left",
                                baseline="bottom", dy=-3).encode(x=HX, y=HY, text="t:N"),
    alt.Chart(h_note).mark_text(fontSize=13, color="#222").encode(x=HX, y=HY, text="t:N"),
    letter_layer("H", -49, -29),
).resolve_axis(x="independent").properties(width=212, height=179)

row3 = hrow([spacer(), vcol([spacer(), D]), spacer(59), vcol([spacer(), G]), spacer(68), vcol([spacer(), H])])

chart = vcol([row1, row2, row3], spacing=2).properties(
    padding={"left": 0, "right": 0, "top": 3, "bottom": 0}
).configure(font=FONT).configure_view(strokeWidth=0).configure_axis(
    grid=False, domainColor="#000", domainWidth=1.2, tickColor="#000", tickWidth=1.1, tickSize=4,
    labelColor="#1a1a1a", labelFontSize=12.5, titleFontSize=13, titleFontWeight="normal",
    titleColor="#111", labelFont=FONT, titleFont=FONT
).configure_title(font=FONT).configure_legend(labelFont=FONT, titleFont=FONT)

chart.save("out.html", embed_options={"renderer": "svg", "actions": False})
